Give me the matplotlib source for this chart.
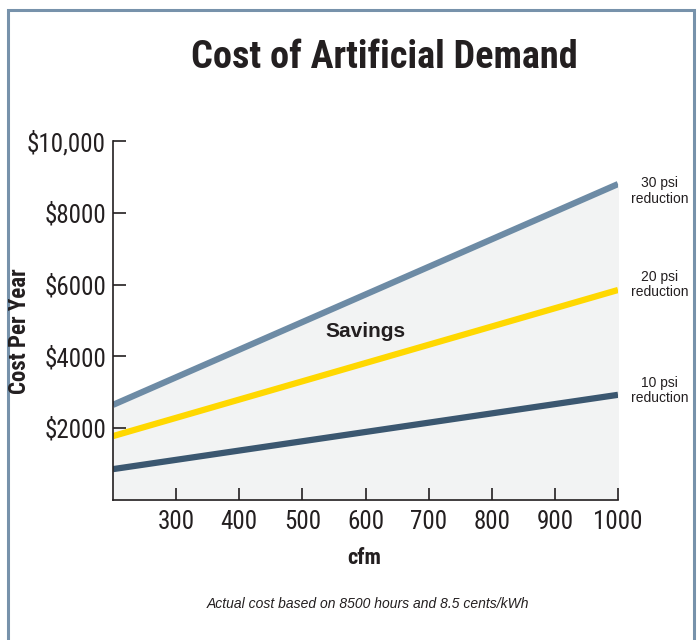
import matplotlib
matplotlib.use("Agg")
import matplotlib.pyplot as plt
from matplotlib.patches import Rectangle

# data ---------------------------------------------------------------
cfm = [200, 1000]
cost_30psi = [2650, 8800]
cost_20psi = [1780, 5850]
cost_10psi = [860, 2930]
x_ticks = [300, 400, 500, 600, 700, 800, 900, 1000]
y_ticks = [2000, 4000, 6000, 8000, 10000]
y_tick_labels = ["$2000", "$4000", "$6000", "$8000", "$10,000"]
series_labels = ["30 psi\nreduction", "20 psi\nreduction", "10 psi\nreduction"]

narrow = ["Roboto Condensed", "Archivo Narrow", "DejaVu Sans"]
plain = ["Liberation Sans", "DejaVu Sans"]
ink = "#231f20"

fig = plt.figure(figsize=(7, 6.4), dpi=100)
ax = fig.add_axes([113/700, 1-500/640, (618-113)/700, (500-141)/640])

# shaded area below the top line
ax.fill_between(cfm, 0, cost_30psi, color="#f2f3f3", zorder=0)
ax.plot(cfm, cost_30psi, color="#6d8ba5", lw=4.5, solid_capstyle="butt")
ax.plot(cfm, cost_20psi, color="#ffd800", lw=4.5, solid_capstyle="butt")
ax.plot(cfm, cost_10psi, color="#3b5770", lw=4.5, solid_capstyle="butt")

ax.set_xlim(200, 1000)
ax.set_ylim(0, 10000)
ax.set_xticks(x_ticks)
ax.set_xticklabels([str(v) for v in x_ticks], family=narrow, fontsize=18)
ax.set_yticks(y_ticks)
ax.set_yticklabels(y_tick_labels, family=narrow, fontsize=18)
ax.tick_params(axis="both", direction="in", length=9, width=1.2, colors=ink)
ax.tick_params(axis="x", pad=7)
ax.tick_params(axis="y", pad=5)
for s in ["top", "right"]:
    ax.spines[s].set_visible(False)
for s in ["left", "bottom"]:
    ax.spines[s].set_linewidth(1.2)
    ax.spines[s].set_color(ink)

# labels at line ends (small vertical nudges in points)
ends = [cost_30psi[-1], cost_20psi[-1], cost_10psi[-1]]
nudges = [-5, 4, 3]
for lab, yv, dy in zip(series_labels, ends, nudges):
    ax.annotate(lab, (1066, yv), xytext=(0, dy), textcoords="offset points",
                ha="center", va="center", fontsize=10, family=plain,
                color=ink, linespacing=1.1, annotation_clip=False)

ax.text(0.5, 0.47, "Savings", transform=ax.transAxes, ha="center", va="center",
        fontsize=15, fontweight="bold", family=plain, color=ink)

fig.text(384/700, 1-58/640, "Cost of Artificial Demand", ha="center", va="center",
         fontsize=27.5, fontweight="bold", family=narrow, color=ink)
fig.text(20/700, 1-331/640, "Cost Per Year", rotation=90, ha="center", va="center",
         fontsize=16.5, fontweight="bold", family=narrow, color=ink)
fig.text(364/700, 1-558/640, "cfm", ha="center", va="center",
         fontsize=16, fontweight="bold", family=narrow, color=ink)
fig.text(368/700, 1-604/640, "Actual cost based on 8500 hours and 8.5 cents/kWh",
         ha="center", va="center", fontsize=10, style="italic", family=plain,
         color=ink)

# frame around the graphic
fig.patches.append(Rectangle((8/700, -0.1), (694-8)/700, 1.1 - 10/640,
                             transform=fig.transFigure, fill=False,
                             edgecolor="#7792ab", lw=2.2))

fig.savefig("out.png", dpi=100)
